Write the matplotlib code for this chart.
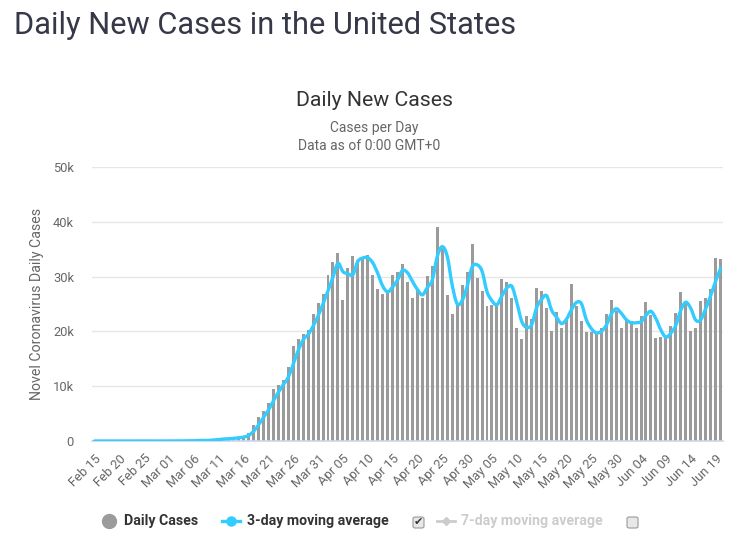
import numpy as np
import pandas as pd
import matplotlib
matplotlib.use('Agg')
import matplotlib.pyplot as plt
from matplotlib.path import Path
from matplotlib.patches import PathPatch, FancyBboxPatch
from matplotlib.lines import Line2D

plt.rcParams['font.family'] = ['Roboto', 'DejaVu Sans']

# daily new cases, Feb 15 .. Jun 20 (one value per day)
dates = pd.date_range('2020-02-15', '2020-06-20', freq='D')
daily_cases = [
    0, 0, 0, 0, 0, 0, 2, 0, 0, 18, 0, 2, 1, 3, 8,                    # Feb 15 - Feb 29
    8, 23, 20, 31, 68, 45, 140, 116, 65, 376, 322, 382, 516,          # Mar 01 - Mar 13
    550, 700, 900, 1400, 2920, 4440, 5470, 7000, 9430, 10220,         # Mar 14 - Mar 23
    11130, 13560, 17340, 18610, 19500, 20200, 23180, 25120,           # Mar 24 - Mar 31
    26830, 30290, 32610, 34370, 25730, 31510, 33760, 33030, 33400,    # Apr 01 - Apr 09
    33900, 30290, 27680, 26900, 27070, 30290, 30800, 32300, 29000,    # Apr 10 - Apr 18
    26100, 27800, 26100, 30200, 31900, 39000, 35500, 26600, 23150,    # Apr 19 - Apr 27
    25250, 28500, 30800, 35900, 29750, 27350, 24650, 24800, 25100,    # Apr 28 - May 06
    29550, 29050, 26100, 20700, 18600, 22900, 22200, 28000, 27350,    # May 07 - May 15
    24200, 20100, 23500, 20700, 22500, 28700, 24650, 21850, 19850,    # May 16 - May 24
    19850, 19500, 20700, 23100, 25650, 23650, 20700, 22200, 21850,    # May 25 - Jun 02
    20700, 22750, 25300, 22950, 18750, 19050, 19050, 20950, 23350,    # Jun 03 - Jun 11
    27200, 25400, 20100, 20700, 25500, 26150, 27800, 33400, 33250,    # Jun 12 - Jun 20
]
y_ticks = [0, 10000, 20000, 30000, 40000, 50000]
y_tick_labels = ['0', '10k', '20k', '30k', '40k', '50k']

df = pd.DataFrame({'date': dates, 'cases': daily_cases})
df['ma3'] = df['cases'].rolling(3, min_periods=1).mean()

fig = plt.figure(figsize=(7.44, 5.41), dpi=100)
W, H = 744, 541
ax = fig.add_axes([92 / W, (H - 441) / H, 631 / W, 274 / H])

x = np.arange(len(df))
ax.bar(x, df['cases'], width=0.6, color='#9b9b9b', zorder=2)

# smooth line through the moving average (catmull-rom as bezier segments)
px = x.astype(float)
py = df['ma3'].values
verts = [(px[0], py[0])]
codes = [Path.MOVETO]
n = len(px)
for i in range(n - 1):
    i0 = max(i - 1, 0)
    i3 = min(i + 2, n - 1)
    c1 = (px[i] + (px[i + 1] - px[i0]) / 6, py[i] + (py[i + 1] - py[i0]) / 6)
    c2 = (px[i + 1] - (px[i3] - px[i]) / 6, py[i + 1] - (py[i3] - py[i]) / 6)
    verts += [c1, c2, (px[i + 1], py[i + 1])]
    codes += [Path.CURVE4, Path.CURVE4, Path.CURVE4]
ax.add_patch(PathPatch(Path(verts, codes), facecolor='none', edgecolor='#33ccff',
                       lw=2.4, zorder=3, capstyle='round', joinstyle='round'))

ax.set_xlim(-0.5, len(df) - 0.5)
ax.set_ylim(0, 50000)
ax.set_yticks(y_ticks)
ax.set_yticklabels(y_tick_labels)
tick_pos = list(range(0, len(df), 5))
ax.set_xticks(tick_pos)
ax.set_xticklabels([df['date'][i].strftime('%b %d') for i in tick_pos],
                   rotation=45, ha='right', rotation_mode='anchor')
ax.tick_params(axis='both', length=0, colors='#666666', labelsize=9.3)
ax.tick_params(axis='y', pad=13)
ax.tick_params(axis='x', pad=8)
ax.grid(axis='y', color='#e6e6e6', lw=1, zorder=0)
ax.set_axisbelow(True)
for s in ['top', 'right', 'left']:
    ax.spines[s].set_visible(False)
ax.spines['bottom'].set_color('#ccd6eb')
ax.spines['bottom'].set_linewidth(1.2)
ax.set_ylabel('Novel Coronavirus Daily Cases', color='#666666', fontsize=10.2, labelpad=6)

# titles
fig.text(14 / W, 1 - 25 / H, 'Daily New Cases in the United States', fontsize=22.2,
         color='#363747', va='center', ha='left')
fig.text(374 / W, 1 - 100 / H, 'Daily New Cases', fontsize=15.3, color='#333333',
         ha='center', va='center')
fig.text(374 / W, 1 - 128 / H, 'Cases per Day', fontsize=10, color='#666666',
         ha='center', va='center')
fig.text(369 / W, 1 - 146 / H, 'Data as of 0:00 GMT+0', fontsize=10, color='#666666',
         ha='center', va='center')

# legend
ly = 1 - 521 / H
fig.add_artist(Line2D([109 / W], [ly], marker='o', ms=10, color='#9b9b9b', ls='none'))
fig.text(124 / W, ly, 'Daily Cases', fontsize=10.2, fontweight='bold', color='#333333',
         va='center')
fig.add_artist(Line2D([222 / W, 240 / W], [ly, ly], color='#33ccff', lw=2.4))
fig.add_artist(Line2D([231 / W], [ly], marker='o', ms=6.5, color='#33ccff', ls='none'))
fig.text(247 / W, ly, '3-day moving average', fontsize=10.2, fontweight='bold',
         color='#333333', va='center')
fig.add_artist(Line2D([437 / W, 455 / W], [ly, ly], color='#cccccc', lw=2))
fig.add_artist(Line2D([446 / W], [ly], marker='D', ms=4.5, color='#cccccc', ls='none'))
fig.text(461 / W, ly, '7-day moving average', fontsize=10.2, fontweight='bold',
         color='#cccccc', va='center')
for bx in [413, 627]:
    fig.add_artist(FancyBboxPatch((bx / W, (H - 528) / H), 11 / W, 11 / H,
                                  boxstyle='round,pad=0,rounding_size=0.003',
                                  facecolor='#e8e8e8', edgecolor='#999999', lw=0.8,
                                  transform=fig.transFigure))
fig.text(418.5 / W, 1 - 522.5 / H, '\u2714', fontsize=8, color='#333333',
         ha='center', va='center', family=['DejaVu Sans'])

fig.savefig('out.png', dpi=100)
